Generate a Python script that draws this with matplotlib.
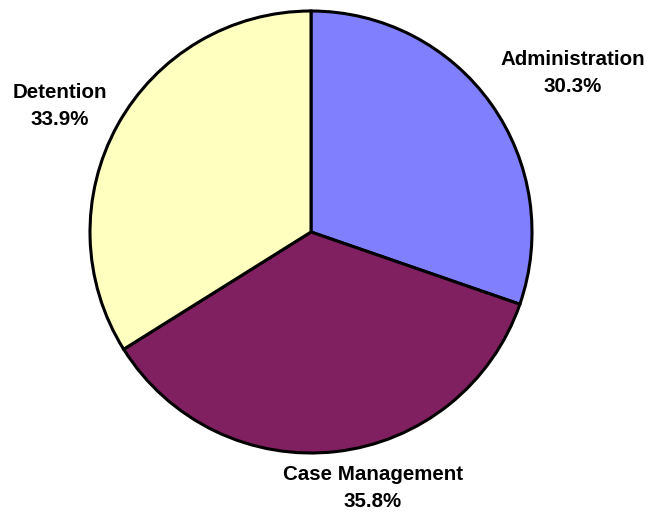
import matplotlib
matplotlib.use("Agg")
import matplotlib.pyplot as plt
import numpy as np

categories = ["Administration", "Case Management", "Detention"]
values = [30.3, 35.8, 33.9]
colors = ["#8080FF", "#802060", "#FFFFC0"]

W, H = 652, 517
fig = plt.figure(figsize=(W / 100, H / 100), dpi=100)
ax = fig.add_axes([0, 0, 1, 1])

cx, cy, r = 311, H - 232, 221
wedges, _ = ax.pie(values, colors=colors, startangle=90, counterclock=False,
                   center=(cx, cy), radius=r,
                   wedgeprops=dict(edgecolor="black", linewidth=2.2))
ax.set_xlim(0, W)
ax.set_ylim(0, H)
ax.set_aspect("equal")
ax.axis("off")

# label placement: (radial factor, angle offset in degrees)
place = [(1.387, -4.2), (1.192, 7.1), (1.271, 2.3)]
for w, lab, v, (f, da) in zip(wedges, categories, values, place):
    ang = np.deg2rad((w.theta1 + w.theta2) / 2 + da)
    x = cx + f * r * np.cos(ang)
    y = cy + f * r * np.sin(ang)
    ax.text(x, y, f"{lab}\n{v:.1f}%", ha="center", va="center",
            fontsize=14.8, fontweight="bold", family="Liberation Sans",
            linespacing=1.55)

fig.savefig("out.png", dpi=100)
